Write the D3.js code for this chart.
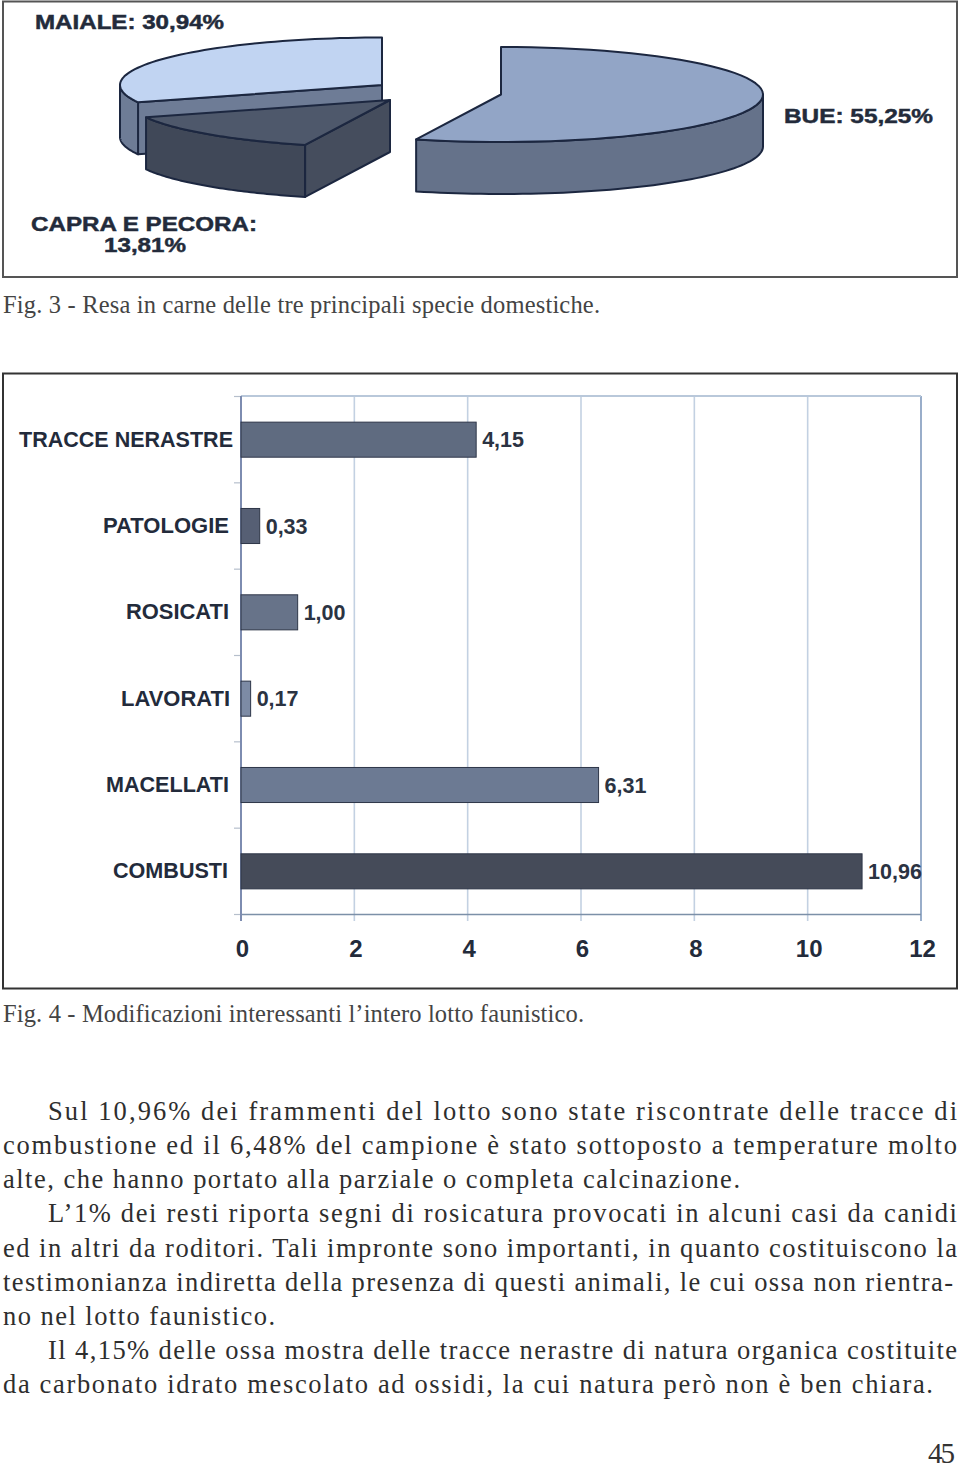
<!DOCTYPE html>
<html><head><meta charset="utf-8">
<script src="https://cdn.jsdelivr.net/npm/d3@7"></script>
<style>html,body{margin:0;padding:0;background:#fff}svg{display:block}</style>
</head><body><div id="c"></div>
<script>
// ---- data ----
const pieNames = ["BUE", "CAPRA E PECORA", "MAIALE"];
const pieValues = [55.25, 13.81, 30.94];
const barCategories = ["TRACCE NERASTRE", "PATOLOGIE", "ROSICATI", "LAVORATI", "MACELLATI", "COMBUSTI"];
const barValues = [4.15, 0.33, 1.00, 0.17, 6.31, 10.96];
const barLabels = ["4,15", "0,33", "1,00", "0,17", "6,31", "10,96"];
const xTicks = [0, 2, 4, 6, 8, 10, 12];
const caption3 = "Fig. 3 - Resa in carne delle tre principali specie domestiche.";
const caption4 = "Fig. 4 - Modificazioni interessanti l’intero lotto faunistico.";
const bodyLines = [
 "Sul 10,96% dei frammenti del lotto sono state riscontrate delle tracce di",
 "combustione ed il 6,48% del campione è stato sottoposto a temperature molto",
 "alte, che hanno portato alla parziale o completa calcinazione.",
 "L’1% dei resti riporta segni di rosicatura provocati in alcuni casi da canidi",
 "ed in altri da roditori. Tali impronte sono importanti, in quanto costituiscono la",
 "testimonianza indiretta della presenza di questi animali, le cui ossa non rientra-",
 "no nel lotto faunistico.",
 "Il 4,15% delle ossa mostra delle tracce nerastre di natura organica costituite",
 "da carbonato idrato mescolato ad ossidi, la cui natura però non è ben chiara."
];
const pageNumber = "45";

// ---- layout ----
const W = 960, H = 1468;
const svg = d3.select("#c").append("svg").attr("width", W).attr("height", H);
const SANS = "'Liberation Sans',Arial,sans-serif", SERIF = "'Liberation Serif',serif";
const INK = "#232b3b";

svg.append("rect").attr("x",3).attr("y",1.5).attr("width",954).attr("height",275.5).attr("fill","#fff").attr("stroke","#555").attr("stroke-width",2);
svg.append("rect").attr("x",3).attr("y",373.5).attr("width",954).attr("height",615).attr("fill","#fff").attr("stroke","#333").attr("stroke-width",2);

// ---- 3D exploded pie ----
const arcs = d3.pie().sort(null)(pieValues);
const rx = 262, ry = 47.5, depth = 52;
const px = d3.scaleLinear().domain([-1,1]).range([-rx,rx]);
const py = d3.scaleLinear().domain([-1,1]).range([-ry,ry]);
const pt = a => [px(Math.sin(a)), py(-Math.cos(a))];
const sample = (a0,a1) => d3.range(0,61).map(i => pt(a0+(a1-a0)*i/60));
const pathLine = d3.line();
const down = p => [p[0], p[1]+depth];
function wall(a0,a1){ const t=sample(a0,a1); return pathLine(t.concat(t.slice().reverse().map(down)))+"Z"; }
function topFace(a0,a1){ return pathLine([[0,0]].concat(sample(a0,a1)))+"Z"; }
function radial(a){ const p=pt(a); return pathLine([[0,0],p,down(p),[0,depth]])+"Z"; }
const pieStyles = [
 {dx:501, dy:94.5, top:"#92a5c6", outer:"#65728a", cut:"#65728a"},
 {dx:390, dy:100,  top:"#4e586b", outer:"#404858", cut:"#454d5d"},
 {dx:382, dy:85,   top:"#c1d4f2", outer:"#6e7c96", cut:"#6e7c96"}
];
const sl = {stroke:"#1c2740","stroke-width":2,"stroke-linejoin":"round"};
function draw(g,d,fill){ const p=g.append("path").attr("d",d).attr("fill",fill); for(const k in sl)p.attr(k,sl[k]); }
const HALF=Math.PI/2;
[2,1,0].forEach(i=>{
  const a=arcs[i], s=pieStyles[i], g=svg.append("g").attr("transform",`translate(${s.dx},${s.dy})`);
  if(i===2){ draw(g,radial(a.startAngle),s.cut); draw(g,wall(a.startAngle,3*HALF),s.outer); }
  if(i===1){ draw(g,wall(a.startAngle,a.endAngle),s.outer); draw(g,radial(a.startAngle),s.cut); }
  if(i===0){ draw(g,wall(HALF,a.endAngle),s.outer); }
  draw(g,topFace(a.startAngle,a.endAngle),s.top);
});

function wide(x,y,t,len){
  svg.append("text").attr("x",x).attr("y",y).attr("font-family",SANS).attr("font-weight",700).attr("font-size",19.5)
   .attr("fill",INK).attr("stroke",INK).attr("stroke-width",0.45)
   .attr("textLength",len).attr("lengthAdjust","spacingAndGlyphs").text(t);
}
const pct = v => String(v).replace(".",",")+"%";
wide(35,29,`${pieNames[2]}: ${pct(pieValues[2])}`,189);
wide(784,123,`${pieNames[0]}: ${pct(pieValues[0])}`,149);
wide(31,231,`${pieNames[1]}:`,226);
wide(104,252,pct(pieValues[1]),82);

// ---- bars ----
const x = d3.scaleLinear().domain([0,12]).range([241,921]);
const y = d3.scaleBand().domain(barCategories).range([396.5,914.5]).paddingInner(0.594).paddingOuter(0.297);
const barFill = ["#5f6b80","#565f74","#677389","#7d8ba5","#6c7a93","#454b59"];
const edges = barCategories.map((c,i)=>y.range()[0]+i*y.step()).concat([y.range()[1]]);

const G = svg.append("g");
G.selectAll("line.grid").data(xTicks.slice(1,-1)).join("line").attr("x1",x).attr("x2",x).attr("y1",396).attr("y2",921).attr("stroke","#c3d1e2").attr("stroke-width",1.6);
G.append("line").attr("x1",x(12)).attr("x2",x(12)).attr("y1",396).attr("y2",921).attr("stroke","#8ea5c4").attr("stroke-width",1.8);
G.append("line").attr("x1",241).attr("x2",921).attr("y1",396).attr("y2",396).attr("stroke","#b9c8da").attr("stroke-width",2);
G.append("line").attr("x1",241).attr("x2",921).attr("y1",914.5).attr("y2",914.5).attr("stroke","#7c90a8").attr("stroke-width",1.6);
G.selectAll("line.tk").data(edges).join("line").attr("x1",234).attr("x2",241).attr("y1",d=>d).attr("y2",d=>d).attr("stroke","#b6bfcc").attr("stroke-width",1.2);
G.append("line").attr("x1",241).attr("x2",241).attr("y1",396).attr("y2",921).attr("stroke","#7d8cb0").attr("stroke-width",2);

G.selectAll("rect.bar").data(barCategories).join("rect").attr("class","bar")
 .attr("x",x(0)).attr("y",d=>y(d)).attr("height",y.bandwidth())
 .attr("width",(d,i)=>x(barValues[i])-x(0))
 .attr("fill",(d,i)=>barFill[i]).attr("stroke","#2e3648").attr("stroke-width",1);

const labelEnd = [233,229,229,230,229,228];
const labelWidth = [214,126,103,109,123,115];
G.selectAll("text.cat").data(barCategories).join("text").attr("class","cat")
 .attr("x",(d,i)=>labelEnd[i]).attr("y",d=>y(d)+y.bandwidth()/2+7).attr("text-anchor","end")
 .attr("font-family",SANS).attr("font-weight",700).attr("font-size",22).attr("fill",INK)
 .attr("textLength",(d,i)=>labelWidth[i]).attr("lengthAdjust","spacingAndGlyphs").text(d=>d);
G.selectAll("text.val").data(barCategories).join("text").attr("class","val")
 .attr("x",(d,i)=>x(barValues[i])+6).attr("y",d=>y(d)+y.bandwidth()/2+7.5)
 .attr("font-family",SANS).attr("font-weight",700).attr("font-size",21.5).attr("fill","#2b3342").text((d,i)=>barLabels[i]);
const xAxis = d3.axisBottom(x).tickValues(xTicks).tickSize(0).tickPadding(0);
const ax = G.append("g").attr("transform","translate(1,957)").call(xAxis);
ax.select(".domain").remove();
ax.selectAll("text").attr("y",0).attr("dy",0).attr("font-family",SANS).attr("font-weight",700).attr("font-size",24).attr("fill",INK);

// ---- text ----
function serif(xp,yp,t,len,size,fill){
  const e=svg.append("text").attr("x",xp).attr("y",yp).attr("font-family",SERIF).attr("font-size",size).attr("fill",fill).text(t);
  if(len) e.attr("textLength",len).attr("lengthAdjust","spacing");
}
serif(3,313,caption3,597,24.5,"#444");
serif(3,1022,caption4,581,24.5,"#444");
const lineX = [48,3,3,48,3,3,3,48,3];
const lineEnd = [957,957,740,957,957,953,275,957,933];
const ly = d3.scaleLinear().domain([0,8]).range([1120,1393]);
bodyLines.forEach((t,i)=>serif(lineX[i],ly(i),t,lineEnd[i]-lineX[i],26.5,"#2e2e2e"));
serif(928,1463,pageNumber,27,29,"#333");
</script></body></html>
